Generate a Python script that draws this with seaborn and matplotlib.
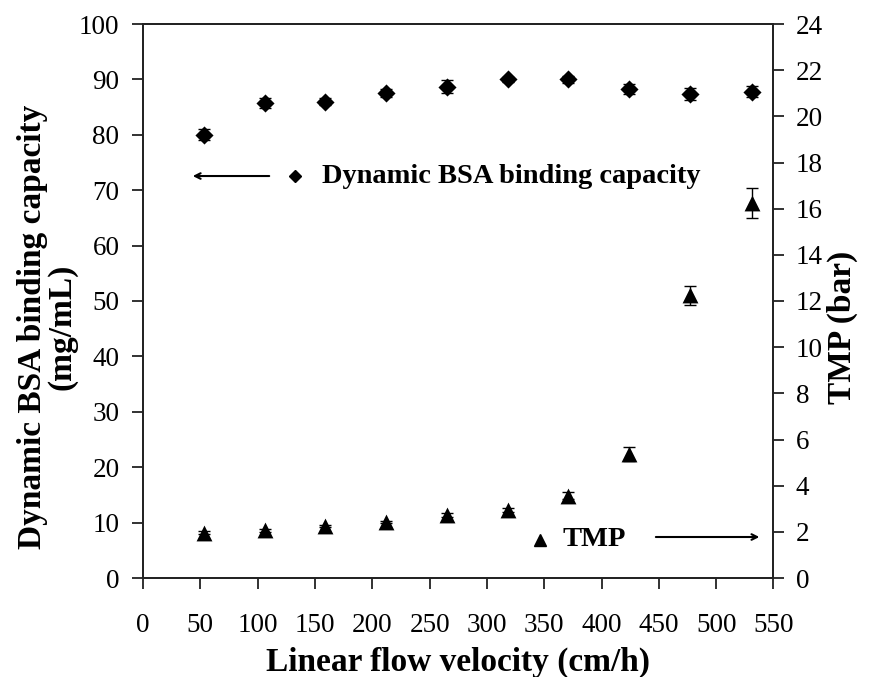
import matplotlib
matplotlib.use("Agg")
import matplotlib.pyplot as plt
import seaborn as sns
import pandas as pd
import numpy as np

# Data
velocity = [53, 106, 159, 212, 265, 318, 371, 424, 477, 531]
bsa_capacity = [80.0, 85.8, 86.0, 87.6, 88.7, 90.0, 90.0, 88.2, 87.3, 87.8]
bsa_err = [1.0, 0.9, 0.7, 0.7, 1.2, 0.5, 0.6, 0.9, 1.1, 1.0]
tmp = [1.97, 2.06, 2.24, 2.43, 2.73, 2.94, 3.56, 5.38, 12.24, 16.25]
tmp_err = [0.05, 0.05, 0.05, 0.05, 0.08, 0.08, 0.15, 0.3, 0.4, 0.65]

xticks = list(range(0, 551, 50))
yticks_left = list(range(0, 101, 10))
yticks_right = list(range(0, 25, 2))

df = pd.DataFrame({"velocity": velocity, "bsa": bsa_capacity, "bsa_err": bsa_err,
                   "tmp": tmp, "tmp_err": tmp_err})

sns.set_style("ticks")
plt.rcParams["font.family"] = ["Liberation Serif", "DejaVu Serif"]
plt.rcParams["text.color"] = "black"
plt.rcParams["axes.labelcolor"] = "black"

fig = plt.figure(figsize=(8.7, 6.77), dpi=100)
ax = fig.add_axes([143 / 870, 1 - 578 / 677, 630.5 / 870, 554 / 677])
ax2 = ax.twinx()

# error bars
ax.errorbar(df["velocity"], df["bsa"], yerr=df["bsa_err"], fmt="none",
            ecolor="black", elinewidth=1.0, capsize=4, capthick=1.0, zorder=2)
ax2.errorbar(df["velocity"], df["tmp"], yerr=df["tmp_err"], fmt="none",
             ecolor="black", elinewidth=1.0, capsize=4, capthick=1.0, zorder=2)

sns.scatterplot(data=df, x="velocity", y="bsa", marker="D", s=85, color="black",
                edgecolor="black", linewidth=0, ax=ax, zorder=3)
sns.scatterplot(data=df, x="velocity", y="tmp", marker="^", s=130, color="black",
                edgecolor="black", linewidth=0, ax=ax2, zorder=3)

ax.set_xlim(0, 550)
ax.set_ylim(0, 100)
ax2.set_ylim(0, 24)
ax.set_xticks(xticks)
ax.set_yticks(yticks_left)
ax2.set_yticks(yticks_right)

for a in (ax, ax2):
    for s in a.spines.values():
        s.set_color("#222222")
        s.set_linewidth(1.3)
    a.tick_params(direction="out", length=8, width=1.3, color="#222222",
                  labelsize=19.5, labelcolor="black")
ax.tick_params(axis="x", pad=17)
ax.tick_params(axis="y", pad=9)
ax2.tick_params(axis="y", pad=8)

ax.set_xlabel("Linear flow velocity (cm/h)", fontsize=24, fontweight="bold",
              color="black")
ax.set_ylabel("Dynamic BSA binding capacity\n(mg/mL)", fontsize=24,
              fontweight="bold", linespacing=0.9, va="center", color="black")
ax2.set_ylabel("TMP (bar)", fontsize=24, fontweight="bold", va="center",
               color="black")
ax.xaxis.set_label_coords(0.5, -0.125)
ax.yaxis.set_label_coords(-0.152, 0.453)
ax2.yaxis.set_label_coords(1.110, 0.453)

# annotations
ax.annotate("", xy=(0.0745, 0.7256), xytext=(0.2046, 0.7256),
            xycoords="axes fraction", textcoords="axes fraction",
            arrowprops=dict(arrowstyle="->", color="black", lw=1.5))
ax.plot([0.241], [0.7256], marker="D", color="black", markersize=6,
        transform=ax.transAxes, clip_on=False)
ax.text(0.284, 0.7256, "Dynamic BSA binding capacity", transform=ax.transAxes,
        fontsize=20.5, fontweight="bold", va="center", ha="left", color="black")

ax.plot([0.630], [0.0686], marker="^", color="black", markersize=9,
        transform=ax.transAxes, clip_on=False)
ax.text(0.666, 0.0686, "TMP", transform=ax.transAxes,
        fontsize=20.5, fontweight="bold", va="center", ha="left", color="black")
ax.annotate("", xy=(0.982, 0.074), xytext=(0.809, 0.074),
            xycoords="axes fraction", textcoords="axes fraction",
            arrowprops=dict(arrowstyle="->", color="black", lw=1.5))

fig.savefig("out.png", dpi=100)
